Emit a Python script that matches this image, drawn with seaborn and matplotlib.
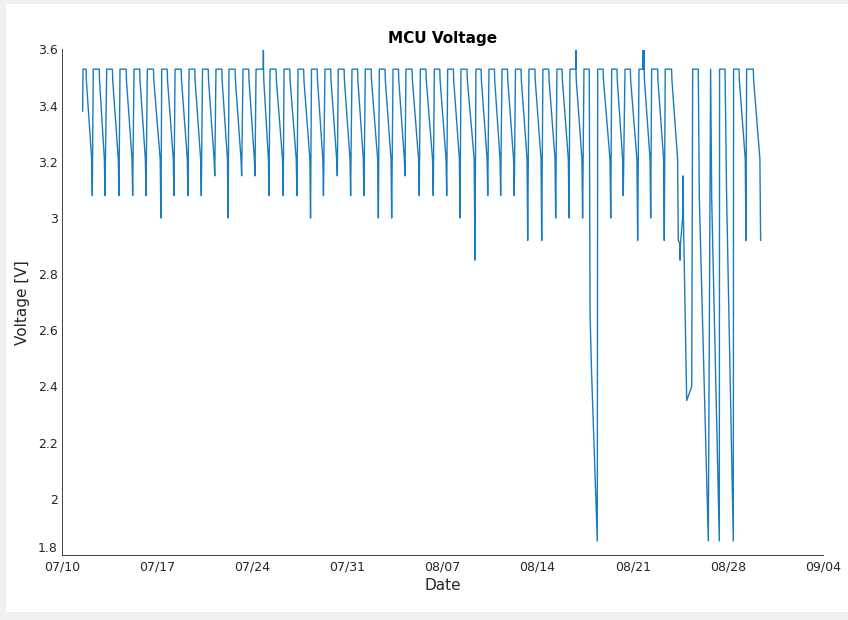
import pandas as pd
import matplotlib
matplotlib.use("Agg")
import matplotlib.pyplot as plt
import matplotlib.dates as mdates
from matplotlib.patches import Rectangle
import seaborn as sns

START = pd.Timestamp("2017-07-10")

# Regular solar cycles, in days since 07/10 00:00:
# panel picks up (dawn), charging stops (dusk), overnight minimum (time, volts)
dawn = [1.545, 2.30, 3.29, 4.27, 5.30, 6.28, 7.34, 8.32, 9.35, 10.34,
        11.33, 12.29, 13.32, 14.28, 15.31, 16.34, 17.37, 18.36, 19.35, 20.33,
        21.34, 22.32, 23.35, 24.36, 25.31, 26.37, 27.40, 28.38, 29.36, 30.46,
        31.42, 32.38, 33.37, 34.36, 35.39, 36.42, 37.38,
        39.42, 40.45, 41.43, 42.46, 43.39, 44.39,
        49.42, 50.38]
dusk = [1.77, 2.74, 3.71, 4.72, 5.72, 6.73, 7.74, 8.77, 9.77, 10.76,
        11.76, 12.74, 13.74, 14.83, 15.75, 16.76, 17.78, 18.78, 19.77, 20.76,
        21.75, 22.75, 23.77, 24.76, 25.76, 26.78, 27.80, 28.80, 29.80, 30.84,
        31.82, 32.78, 33.78, 34.80, 35.82, 36.80, 37.82,
        39.82, 40.84, 41.82, 42.84, 43.83, 44.86,
        49.82, 50.87]
low_t = [2.23, 3.16, 4.19, 5.20, 6.18, 7.28, 8.24, 9.27, 10.25, 11.24,
         12.22, 13.22, 14.20, 15.23, 16.28, 17.29, 18.29, 19.24, 20.26, 21.24,
         22.22, 23.28, 24.26, 25.24, 26.29, 27.32, 28.31, 29.29, 30.39, 31.33,
         32.28, 33.28, 34.27, 35.30, 36.33, 37.31, 38.31,
         40.38, 41.30, 42.36, 43.32, 44.32, 45.35,
         50.33, 51.41]
low_v = [3.08, 3.08, 3.08, 3.08, 3.08, 3.00, 3.08, 3.08, 3.08, 3.15,
         3.00, 3.15, 3.15, 3.08, 3.08, 3.08, 3.00, 3.08, 3.15, 3.08,
         3.08, 3.00, 3.00, 3.15, 3.08, 3.08, 3.08, 3.00, 2.85, 3.08,
         3.08, 3.08, 2.92, 2.92, 3.00, 3.00, 3.00,
         3.00, 3.08, 2.92, 3.00, 2.92, 2.92,
         2.92, 2.92]

FULL_V = 3.53  # regulator ceiling while the panel is charging

# Typical overnight discharge: position within the night and voltage
night_frac = [0.05, 0.32, 0.64, 0.90]
night_v = [3.49, 3.40, 3.29, 3.21]

# Irregular samples (day, volts): first reading and the brown-out episodes
extra_t = [1.52,
           38.41, 38.80, 38.83, 38.86, 38.97, 39.39,
           45.47, 45.48, 45.50, 45.70, 45.71, 45.72, 45.73, 45.97, 46.34,
           46.41, 46.82, 46.90, 47.56, 47.73, 47.81, 48.37,
           48.39, 48.79, 48.91, 49.40]
extra_v = [3.38,
           3.53, 3.53, 3.10, 2.65, 2.45, 1.85,
           2.91, 2.85, 2.90, 3.02, 3.15, 3.08, 3.00, 2.35, 2.40,
           3.53, 3.53, 3.07, 1.85, 3.53, 3.07, 1.85,
           3.53, 3.53, 3.07, 1.85]

# Short overvoltage spikes at the end of the charging window
spike_t = [14.82, 37.81, 42.77, 42.79, 42.81]
SPIKE_V = 3.60

tick_days = [0, 7, 14, 21, 28, 35, 42, 49, 56]
y_ticks = [1.8, 2.0, 2.2, 2.4, 2.6, 2.8, 3.0, 3.2, 3.4, 3.6]
y_tick_labels = ["1.8", "2", "2.2", "2.4", "2.6", "2.8", "3", "3.2", "3.4", "3.6"]

# Assemble the sample table
rows = []
for d0, d1, t2, v2 in zip(dawn, dusk, low_t, low_v):
    rows.append((d0, FULL_V))
    rows.append((d1, FULL_V))
    for f, v in zip(night_frac, night_v):
        rows.append((d1 + f * (t2 - d1), v))
    rows.append((t2, v2))
rows.extend(zip(extra_t, extra_v))
for s in spike_t:
    rows.append((s - 0.002, FULL_V))
    rows.append((s, SPIKE_V))
    rows.append((s + 0.002, FULL_V))

df = pd.DataFrame(rows, columns=["day", "voltage"]).sort_values("day", kind="stable")
df["Date"] = START + pd.to_timedelta(df["day"], unit="D")

sns.set_style("white")
plt.rcParams["font.family"] = ["DejaVu Sans"]

fig = plt.figure(figsize=(8.48, 6.2), dpi=100, facecolor="#f0f0f0")
# white canvas inside a thin grey window frame
fig.patches.append(Rectangle((6 / 848, 8 / 620), 1, 1 - 12 / 620,
                             transform=fig.transFigure, facecolor="white",
                             edgecolor="none", zorder=-10))
ax = fig.add_axes([62 / 848, 1 - 555 / 620, 761 / 848, (555 - 49.5) / 620])
ax.set_zorder(1)
ax.set_facecolor("white")

sns.lineplot(data=df, x="Date", y="voltage", ax=ax, estimator=None, sort=False,
             color="#1a7cc0", linewidth=1.0)

ax.set_xlim(START, START + pd.Timedelta(days=56))
ax.set_ylim(1.8, 3.6)
ax.set_xticks([START + pd.Timedelta(days=d) for d in tick_days])
ax.xaxis.set_major_formatter(mdates.DateFormatter("%m/%d"))
ax.set_yticks(y_ticks)
ax.set_yticklabels(y_tick_labels)
# lift the lowest y label so it clears the first date label
ax.get_yticklabels()[0].set_verticalalignment("bottom")

for side in ("top", "right"):
    ax.spines[side].set_visible(False)
for side in ("left", "bottom"):
    ax.spines[side].set_color("#404040")
    ax.spines[side].set_linewidth(0.7)
ax.tick_params(direction="in", length=5, width=0.7, color="#404040",
               labelsize=9, labelcolor="#262626", pad=4)
ax.tick_params(axis="y", pad=3)

ax.set_xlabel("Date", fontsize=11, color="#262626", labelpad=3)
ax.set_ylabel("Voltage [V]", fontsize=11, color="#262626", labelpad=6)
ax.set_title("MCU Voltage", fontsize=11, fontweight="bold", color="black", pad=5)

fig.savefig("out.png", dpi=100, facecolor=fig.get_facecolor())
